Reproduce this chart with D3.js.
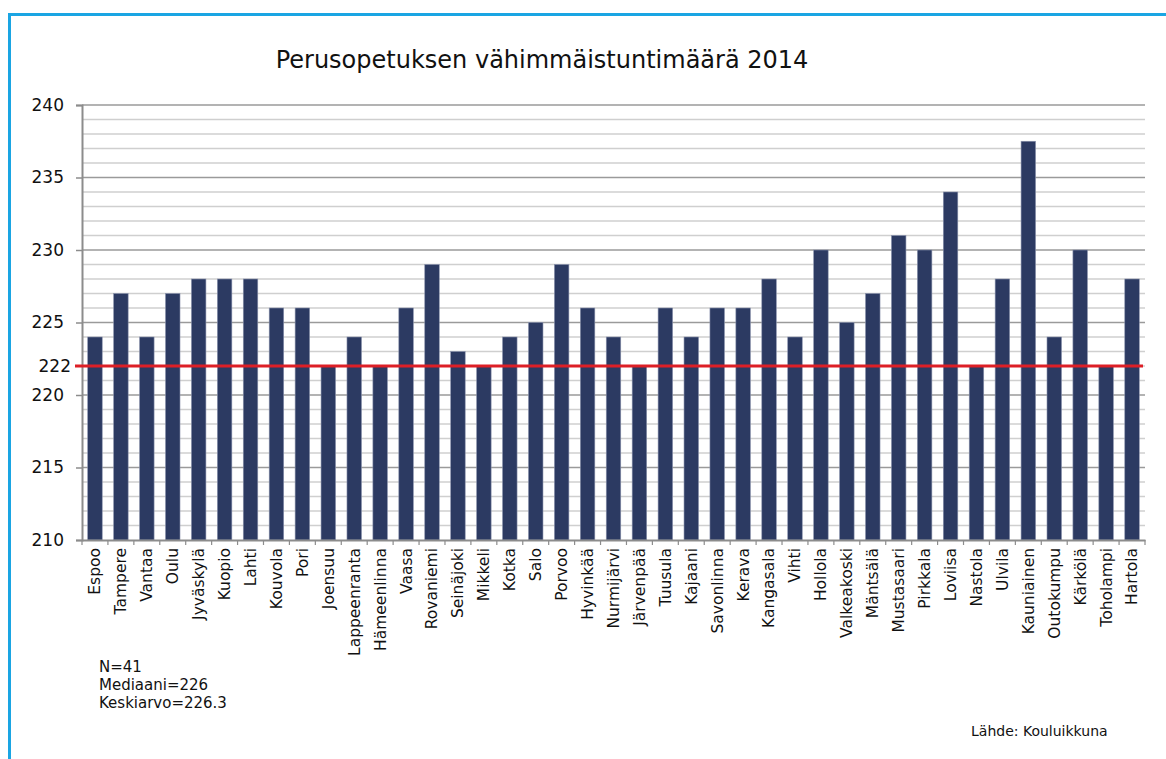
<!DOCTYPE html>
<html>
<head>
<meta charset="utf-8">
<script src="https://cdn.jsdelivr.net/npm/d3@7"></script>
<style>
  body { margin: 0; background: #fff; }
  text { font-family: Verdana, "DejaVu Sans", sans-serif; fill: #111; }
</style>
</head>
<body>
<svg id="chart" width="1166" height="759"></svg>
<script>
// municipalities, in chart order
var towns = ["Espoo", "Tampere", "Vantaa", "Oulu", "Jyväskylä", "Kuopio", "Lahti", "Kouvola", "Pori", "Joensuu",
    "Lappeenranta", "Hämeenlinna", "Vaasa", "Rovaniemi", "Seinäjoki", "Mikkeli", "Kotka", "Salo", "Porvoo", "Hyvinkää",
    "Nurmijärvi", "Järvenpää", "Tuusula", "Kajaani", "Savonlinna", "Kerava", "Kangasala", "Vihti", "Hollola", "Valkeakoski",
    "Mäntsälä", "Mustasaari", "Pirkkala", "Loviisa", "Nastola", "Ulvila", "Kauniainen", "Outokumpu", "Kärkölä", "Toholampi", "Hartola"];

// minimum lesson hours
var hours = [224, 227, 224, 227, 228, 228, 228, 226, 226, 222,
    224, 222, 226, 229, 223, 222, 224, 225, 229, 226,
    224, 222, 226, 224, 226, 226, 228, 224, 230, 225,
    227, 231, 230, 234, 222, 228, 237.5, 224, 230, 222, 228];

var yTicks = [210, 215, 220, 225, 230, 235, 240];
var minLimit = 222; // legal minimum (red line)
var notes = ["N=41", "Mediaani=226", "Keskiarvo=226.3"];
var source = "Lähde: Kouluikkuna";
var title = "Perusopetuksen vähimmäistuntimäärä 2014";

var svg = d3.select("#chart");

// blue frame
svg.append("rect")
    .attr("x", 9.5).attr("y", 14.5)
    .attr("width", 1200).attr("height", 800)
    .attr("fill", "none")
    .attr("stroke", "#1aa5e3")
    .attr("stroke-width", 3);

var plotLeft = 82, plotRight = 1145, plotTop = 105, plotBottom = 540;

var x = d3.scaleBand()
    .domain(towns)
    .range([plotLeft, plotRight])
    .paddingInner(0.44)
    .paddingOuter(0.22);

var y = d3.scaleLinear()
    .domain([210, 240])
    .range([plotBottom, plotTop]);

// gridlines, one per unit
var grid = d3.range(211, 241);
svg.append("g")
    .selectAll("line")
    .data(grid)
    .enter()
    .append("line")
    .attr("x1", plotLeft).attr("x2", plotRight)
    .attr("y1", function (d) { return y(d) })
    .attr("y2", function (d) { return y(d) })
    .attr("stroke", function (d) { return d % 5 == 0 ? "#9a9a9a" : "#cfcfcf" })
    .attr("stroke-width", 1.6);

// bars
svg.append("g")
    .selectAll("rect")
    .data(towns)
    .enter()
    .append("rect")
    .attr("x", function (d) { return x(d) })
    .attr("width", x.bandwidth())
    .attr("y", function (d, i) { return y(hours[i]) })
    .attr("height", function (d, i) { return plotBottom - y(hours[i]) })
    .attr("fill", "#2c3a62")
    .attr("stroke", "#8b93ad")
    .attr("stroke-width", 0.6);

// y axis
var yAxis = d3.axisLeft(y)
    .tickValues(yTicks)
    .tickSize(6)
    .tickPadding(12)
    .tickFormat(d3.format("d"));

var gy = svg.append("g")
    .attr("transform", "translate(" + plotLeft + ",0)")
    .call(yAxis);
gy.select(".domain").attr("stroke", "#8c8c8c").attr("stroke-width", 2);
gy.selectAll(".tick line").attr("stroke", "#8c8c8c").attr("stroke-width", 1.5);
gy.selectAll(".tick text")
    .style("font-size", "17px")
    .style("font-family", "Verdana, 'DejaVu Sans', sans-serif")
    .attr("fill", "#111");

// x axis
var xAxis = d3.axisBottom(x).tickSize(0).tickPadding(8);
var gx = svg.append("g")
    .attr("transform", "translate(0," + plotBottom + ")")
    .call(xAxis);
gx.select(".domain").attr("stroke", "#8c8c8c").attr("stroke-width", 2);
gx.selectAll(".tick text")
    .attr("transform", "rotate(-90)")
    .attr("x", -8)
    .attr("y", 0)
    .attr("dy", "0.35em")
    .style("text-anchor", "end")
    .style("font-size", "15.5px")
    .style("font-family", "Verdana, 'DejaVu Sans', sans-serif")
    .attr("fill", "#111");

// small separators between categories
svg.append("g")
    .selectAll("line")
    .data(d3.range(towns.length + 1))
    .enter()
    .append("line")
    .attr("x1", function (d) { return plotLeft + d * (plotRight - plotLeft) / towns.length })
    .attr("x2", function (d) { return plotLeft + d * (plotRight - plotLeft) / towns.length })
    .attr("y1", plotBottom).attr("y2", plotBottom + 5)
    .attr("stroke", "#8c8c8c")
    .attr("stroke-width", 1.2);

// minimum line
svg.append("line")
    .attr("x1", 75).attr("x2", 1143)
    .attr("y1", y(minLimit)).attr("y2", y(minLimit))
    .attr("stroke", "#dd1f26")
    .attr("stroke-width", 3);

svg.append("text")
    .attr("x", 71)
    .attr("y", y(minLimit))
    .attr("dy", "0.35em")
    .attr("text-anchor", "end")
    .style("font-size", "17px")
    .text(minLimit);

// title
svg.append("text")
    .attr("x", 542)
    .attr("y", 68)
    .attr("text-anchor", "middle")
    .style("font-size", "24px")
    .text(title);

// notes
svg.append("g")
    .selectAll("text")
    .data(notes)
    .enter()
    .append("text")
    .attr("x", 99)
    .attr("y", function (d, i) { return 672 + i * 18 })
    .style("font-size", "15px")
    .text(function (d) { return d });

svg.append("text")
    .attr("x", 971)
    .attr("y", 736)
    .style("font-size", "14px")
    .text(source);
</script>
</body>
</html>
